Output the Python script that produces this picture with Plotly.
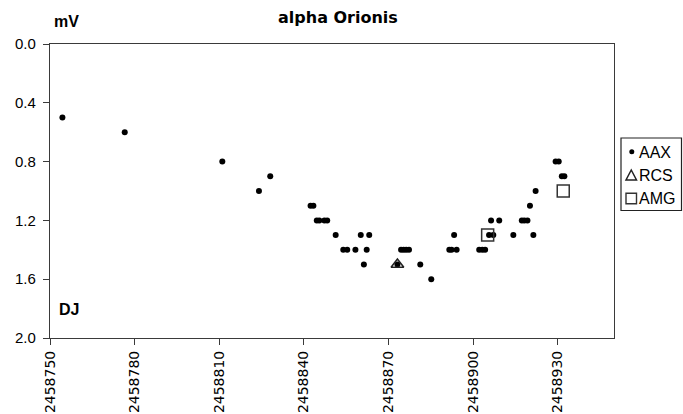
import plotly.graph_objects as go

# ---- data ----
aax_jd = [2458754.4, 2458776.5, 2458811.1, 2458824.1, 2458828.1,
          2458842.4, 2458843.4, 2458844.6, 2458845.5, 2458847.3, 2458848.3,
          2458851.3, 2458854.0, 2458855.4, 2458858.3, 2458860.2, 2458861.3,
          2458862.3, 2458863.2, 2458873.2, 2458874.5, 2458875.4, 2458876.3,
          2458877.3, 2458881.3, 2458885.2, 2458891.6, 2458892.4, 2458893.3,
          2458894.2, 2458902.2, 2458903.3, 2458904.3, 2458905.7, 2458906.4,
          2458907.2, 2458909.3, 2458914.3, 2458917.3, 2458918.2, 2458919.3,
          2458920.2, 2458921.4, 2458922.2, 2458929.3, 2458930.4, 2458931.5,
          2458932.4]
aax_mv = [0.5, 0.6, 0.8, 1.0, 0.9,
          1.1, 1.1, 1.2, 1.2, 1.2, 1.2,
          1.3, 1.4, 1.4, 1.4, 1.3, 1.5,
          1.4, 1.3, 1.5, 1.4, 1.4, 1.4,
          1.4, 1.5, 1.6, 1.4, 1.4, 1.3,
          1.4, 1.4, 1.4, 1.4, 1.3, 1.2,
          1.3, 1.2, 1.3, 1.2, 1.2, 1.2,
          1.1, 1.3, 1.0, 0.8, 0.8, 0.9,
          0.9]
rcs_jd = [2458873.2]
rcs_mv = [1.5]
amg_jd = [2458905.2, 2458932.0]
amg_mv = [1.3, 1.0]

x_ticks = [2458750, 2458780, 2458810, 2458840, 2458870, 2458900, 2458930]
y_ticks = [0.0, 0.4, 0.8, 1.2, 1.6, 2.0]
series_names = ["AAX", "RCS", "AMG"]

# ---- layout geometry (pixels) ----
W, H = 683, 414
L, R, T, B = 50, 614, 44, 338
AX_COL = "#3a3a3a"


def px(x):
    return (x - L) / (R - L)


def py(y):
    return (B - y) / (B - T)


fig = go.Figure()
fig.add_trace(go.Scatter(x=aax_jd, y=aax_mv, mode="markers", name=series_names[0],
                         marker=dict(symbol="circle", size=6, color="black"),
                         showlegend=False))
fig.add_trace(go.Scatter(x=rcs_jd, y=rcs_mv, mode="markers", name=series_names[1],
                         marker=dict(symbol="triangle-up-open", size=11, color="#222",
                                     line=dict(width=1.6, color="#222")),
                         showlegend=False))
fig.add_trace(go.Scatter(x=amg_jd, y=amg_mv, mode="markers", name=series_names[2],
                         marker=dict(symbol="square-open", size=12, color="#333",
                                     line=dict(width=1.5, color="#333")),
                         showlegend=False))

axis_common = dict(showgrid=False, zeroline=False, showline=True, linecolor=AX_COL,
                   linewidth=1.3, mirror=True, ticks="outside", ticklen=6,
                   tickcolor=AX_COL, tickwidth=1.3)

fig.update_xaxes(range=[2458750, 2458950], tickmode="array", tickvals=x_ticks,
                 ticktext=[str(v) for v in x_ticks], tickangle=-90,
                 tickfont=dict(family="DejaVu Sans", size=14, color="black"),
                 **axis_common)
fig.update_yaxes(range=[2.0, 0.0], tickmode="array", tickvals=y_ticks,
                 ticktext=[f"{v:.1f}" for v in y_ticks], ticklabelstandoff=4,
                 tickfont=dict(family="Liberation Sans, Arial", size=15, color="black"),
                 **axis_common)

annotations = [
    dict(text="<b>alpha Orionis</b>", xref="paper", yref="paper",
         x=px(338), y=py(17), xanchor="center", yanchor="middle", showarrow=False,
         font=dict(family="DejaVu Sans", size=16, color="black")),
    dict(text="<b>mV</b>", xref="paper", yref="paper",
         x=px(52), y=py(22), xanchor="left", yanchor="middle", showarrow=False,
         font=dict(family="Liberation Sans, Arial", size=16, color="black")),
    dict(text="<b>DJ</b>", xref="paper", yref="paper",
         x=px(57), y=py(309), xanchor="left", yanchor="middle", showarrow=False,
         font=dict(family="Liberation Sans, Arial", size=16, color="black")),
]

# manual legend
leg_y = [152, 175, 198.5]
for name, yy in zip(series_names, leg_y):
    annotations.append(dict(text=name, xref="paper", yref="paper", x=px(637), y=py(yy),
                            xanchor="left", yanchor="middle", showarrow=False,
                            font=dict(family="Liberation Sans, Arial", size=16,
                                      color="black")))

shapes = [
    dict(type="rect", xref="paper", yref="paper", x0=px(621), x1=px(681.5),
         y0=py(210.5), y1=py(138), line=dict(color="#222", width=1.2),
         fillcolor="white", layer="below"),
    dict(type="circle", xref="paper", yref="paper", x0=px(629.3), x1=px(634.3),
         y0=py(154.3), y1=py(149.3), fillcolor="black", line=dict(width=0)),
    dict(type="path", xref="paper", yref="paper",
         path=f"M {px(626)} {py(180)} L {px(636.5)} {py(180)} L {px(631.25)} {py(170)} Z",
         line=dict(color="#222", width=1.5)),
    dict(type="rect", xref="paper", yref="paper", x0=px(626), x1=px(636.5),
         y0=py(203.8), y1=py(193.3), line=dict(color="#333", width=1.4)),
]

fig.update_layout(width=W, height=H,
                  margin=dict(l=L, r=W - R, t=T, b=H - B, autoexpand=False),
                  paper_bgcolor="white", plot_bgcolor="white",
                  annotations=annotations, shapes=shapes, showlegend=False)

fig.write_html("out.html")
